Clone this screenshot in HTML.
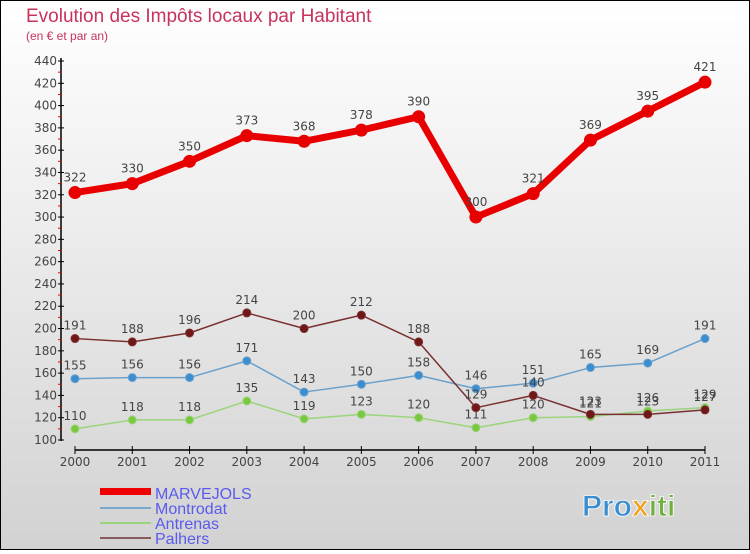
<!DOCTYPE html>
<html><head><meta charset="utf-8"><style>
body{margin:0}
#c{width:750px;height:550px;position:relative;font-family:"DejaVu Sans","Liberation Sans",sans-serif;}
</style></head><body>
<div id="c">
<svg id="s" width="750" height="550" xmlns="http://www.w3.org/2000/svg">
<defs><linearGradient id="bg" x1="0" y1="0" x2="0" y2="1"><stop offset="0" stop-color="#ffffff"/><stop offset="1" stop-color="#d2d2d2"/></linearGradient></defs>
<rect x="0.5" y="0.5" width="749" height="549" fill="url(#bg)" stroke="#000"/>
<text x="26" y="22" font-size="19" font-family="Liberation Sans" fill="#c8335c">Evolution des Impôts locaux par Habitant</text>
<text x="26" y="40" font-size="12" font-family="Liberation Sans" fill="#c8335c">(en € et par an)</text>
<g id="axes"></g><g id="series"></g>
<g font-family="Liberation Sans">
<rect x="100" y="488" width="51" height="7" fill="#e00"/>
<text x="155" y="499" font-size="16" fill="#5a5aee">MARVEJOLS</text>
<rect x="100" y="507" width="51" height="2" fill="#7aa8cc"/>
<text x="155" y="514" font-size="16" fill="#5a5aee">Montrodat</text>
<rect x="100" y="522" width="51" height="2" fill="#9cd47c"/>
<text x="155" y="529" font-size="16" fill="#5a5aee">Antrenas</text>
<rect x="100" y="537" width="51" height="2" fill="#8a5a5a"/>
<text x="155" y="544" font-size="16" fill="#5a5aee">Palhers</text>
</g>
<text x="582" y="516" font-size="30" font-weight="bold" font-family="Liberation Sans" fill="#3a8ed0" stroke="#fff" stroke-width="0.8">Pro<tspan fill="#f0a020">x</tspan><tspan fill="#70b040">iti</tspan></text>
</svg></div>
<script>
const years=[2000,2001,2002,2003,2004,2005,2006,2007,2008,2009,2010,2011];
const marvejols=[322,330,350,373,368,378,390,300,321,369,395,421];
const montrodat=[155,156,156,171,143,150,158,146,151,165,169,191];
const antrenas=[110,118,118,135,119,123,120,111,120,121,126,129];
const palhers=[191,188,196,214,200,212,188,129,140,123,123,127];
const yTicks=[100,120,140,160,180,200,220,240,260,280,300,320,340,360,380,400,420,440];
const NS="http://www.w3.org/2000/svg";
function X(i){return 75+i*(630/11);}
function Y(v){return 440-(v-100)*(379/340);}
function mk(t,a,p){const e=document.createElementNS(NS,t);for(const k in a)e.setAttribute(k,a[k]);p.appendChild(e);return e;}
const ax=document.getElementById('axes');
mk('line',{x1:61,y1:58,x2:61,y2:441,stroke:'#000','stroke-width':1.5},ax);
mk('line',{x1:75,y1:450,x2:705,y2:450,stroke:'#000','stroke-width':1.5},ax);
yTicks.forEach(v=>{
 mk('line',{x1:58,y1:Y(v),x2:64,y2:Y(v),stroke:'#000'},ax);
 if(v<440)mk('line',{x1:58,y1:Y(v+10),x2:61,y2:Y(v+10),stroke:'#e00'},ax);
 const t=mk('text',{x:57,y:Y(v)+4,'text-anchor':'end','font-size':12,fill:'#444'},ax);
 t.textContent=v;
 
 
});
years.forEach((y,i)=>{
 mk('line',{x1:X(i),y1:446,x2:X(i),y2:454,stroke:'#000'},ax);
 const t=mk('text',{x:X(i),y:466,'text-anchor':'middle','font-size':12,fill:'#444'},ax);
 t.textContent=y;
 
 
});
const sg=document.getElementById('series');
function series(name,vals,color,dot,w,r){
 const g=mk('g',{},sg);
 
 
 mk('polyline',{points:vals.map((v,i)=>X(i)+','+Y(v)).join(' '),fill:'none',stroke:color,'stroke-width':w,'stroke-linejoin':'round'},g);
 vals.forEach((v,i)=>{
  const c=mk('circle',{cx:X(i),cy:Y(v),r:r,fill:dot,stroke:color,'stroke-width':1},g);
  
  
  const t=mk('text',{x:X(i),y:Y(v)-r-5,'text-anchor':'middle','font-size':12,fill:'#444'},g);
  t.textContent=v;
  
  
 });
}
series('antrenas',antrenas,'#9cd47c','#7ac840',1.5,4);
series('montrodat',montrodat,'#6aa0cc','#3a8ed0',1.5,4);
series('palhers',palhers,'#7a3030','#701818',1.5,4);
series('marvejols',marvejols,'#e80000','#e80000',7,6);
</script>
</body></html>
